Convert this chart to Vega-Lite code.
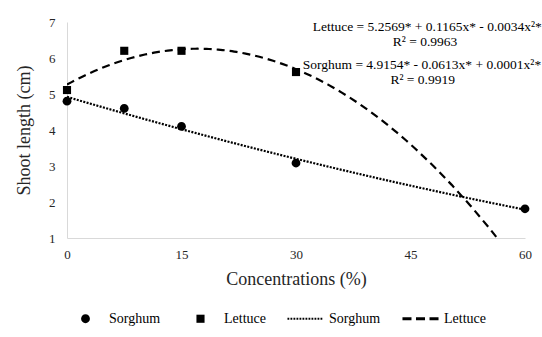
{
  "$schema": "https://vega.github.io/schema/vega-lite/v6.json",
  "width": 458,
  "height": 216,
  "autosize": {"type": "none"},
  "padding": {"left": 67, "top": 22, "right": 17, "bottom": 99},
  "background": "white",
  "config": {
    "font": "Liberation Serif",
    "view": {"stroke": null},
    "axis": {
      "domainColor": "#d9d9d9",
      "domainWidth": 1,
      "ticks": false,
      "grid": false,
      "labelFont": "Liberation Serif",
      "labelFontSize": 13,
      "labelColor": "#262626",
      "titleFont": "Liberation Serif",
      "titleFontSize": 18,
      "titleFontWeight": "normal",
      "titleColor": "#262626"
    },
    "legend": {
      "orient": "bottom",
      "direction": "horizontal",
      "title": null,
      "labelFont": "Liberation Serif",
      "labelFontSize": 14,
      "labelColor": "#000000",
      "symbolSize": 1300,
      "symbolStrokeWidth": 0,
      "symbolFillColor": "#000000",
      "symbolOpacity": 1,
      "columnPadding": 21,
      "labelOffset": 5,
      "offset": 12
    }
  },
  "data": {
    "values": [
      {"x": 0, "y": 4.8, "pt": "Sorghum", "ln": "Sorghum "},
      {"x": 7.5, "y": 4.6, "pt": "Sorghum", "ln": "Sorghum "},
      {"x": 15, "y": 4.1, "pt": "Sorghum", "ln": "Sorghum "},
      {"x": 30, "y": 3.08, "pt": "Sorghum", "ln": "Sorghum "},
      {"x": 60, "y": 1.81, "pt": "Sorghum", "ln": "Sorghum "},
      {"x": 0, "y": 5.11, "pt": "Lettuce", "ln": "Lettuce "},
      {"x": 7.5, "y": 6.2, "pt": "Lettuce", "ln": "Lettuce "},
      {"x": 15, "y": 6.2, "pt": "Lettuce", "ln": "Lettuce "},
      {"x": 30, "y": 5.61, "pt": "Lettuce", "ln": "Lettuce "},
      {"x": 60, "y": 0, "pt": "Lettuce", "ln": "Lettuce "}
    ]
  },
  "encoding": {
    "x": {
      "field": "x",
      "type": "quantitative",
      "scale": {"domain": [0, 60], "nice": false},
      "axis": {"values": [0, 15, 30, 45, 60], "title": "Concentrations (%)", "labelPadding": 10, "titlePadding": 9, "labelFlush": false}
    },
    "y": {
      "field": "y",
      "type": "quantitative",
      "scale": {"domain": [1, 7], "nice": false},
      "axis": {"values": [1, 2, 3, 4, 5, 6, 7], "title": "Shoot length (cm)", "labelPadding": 12, "titlePadding": 15}
    }
  },
  "layer": [
    {
      "transform": [
        {"regression": "y", "on": "x", "groupby": ["ln"], "method": "poly", "order": 2, "extent": [0, 60]}
      ],
      "mark": {"type": "line", "color": "#000000", "strokeWidth": 2.2, "clip": true},
      "encoding": {
        "strokeDash": {
          "field": "ln",
          "type": "nominal",
          "scale": {
            "domain": ["Sorghum", "Lettuce", "Sorghum ", "Lettuce "],
            "range": [[1, 0], [1, 0], [2, 1.4], [8, 5]]
          }
        }
      }
    },
    {
      "transform": [{"filter": "datum.y >= 1"}],
      "mark": {"type": "point", "filled": true, "color": "#000000", "strokeWidth": 0, "size": 1300, "opacity": 1},
      "encoding": {
        "shape": {
          "field": "pt",
          "type": "nominal",
          "scale": {
            "domain": ["Sorghum", "Lettuce", "Sorghum ", "Lettuce "],
            "range": [
              "M-0.245,0A0.245,0.245,0,1,1,0.245,0A0.245,0.245,0,1,1,-0.245,0Z",
              "M-0.225,-0.225H0.225V0.225H-0.225Z",
              "M-1,-0.055h0.1v0.11h-0.1zM-0.833,-0.055h0.1v0.11h-0.1zM-0.667,-0.055h0.1v0.11h-0.1zM-0.5,-0.055h0.1v0.11h-0.1zM-0.333,-0.055h0.1v0.11h-0.1zM-0.167,-0.055h0.1v0.11h-0.1zM0,-0.055h0.1v0.11h-0.1zM0.167,-0.055h0.1v0.11h-0.1zM0.333,-0.055h0.1v0.11h-0.1zM0.5,-0.055h0.1v0.11h-0.1zM0.667,-0.055h0.1v0.11h-0.1zM0.833,-0.055h0.1v0.11h-0.1z",
              "M-1,-0.08h0.5v0.16h-0.5zM-0.25,-0.08h0.5v0.16h-0.5zM0.5,-0.08h0.5v0.16h-0.5z"
            ]
          },
          "legend": {"offset": 12}
        }
      }
    },
    {
      "transform": [{"filter": "datum.x == 0 && datum.pt == 'Sorghum'"}],
      "mark": {"type": "text", "text": "Lettuce = 5.2569* + 0.1165x* - 0.0034x²*", "align": "center", "baseline": "middle", "fontSize": 13.5, "font": "Liberation Serif", "color": "#000000"},
      "encoding": {"x": {"datum": 47.2}, "y": {"datum": 6.86}}
    },
    {
      "transform": [{"filter": "datum.x == 0 && datum.pt == 'Sorghum'"}],
      "mark": {"type": "text", "text": "R² = 0.9963", "align": "center", "baseline": "middle", "fontSize": 13.5, "font": "Liberation Serif", "color": "#000000"},
      "encoding": {"x": {"datum": 46.9}, "y": {"datum": 6.44}}
    },
    {
      "transform": [{"filter": "datum.x == 0 && datum.pt == 'Sorghum'"}],
      "mark": {"type": "text", "text": "Sorghum = 4.9154* - 0.0613x* + 0.0001x²*", "align": "center", "baseline": "middle", "fontSize": 13.5, "font": "Liberation Serif", "color": "#000000"},
      "encoding": {"x": {"datum": 46.5}, "y": {"datum": 5.81}}
    },
    {
      "transform": [{"filter": "datum.x == 0 && datum.pt == 'Sorghum'"}],
      "mark": {"type": "text", "text": "R² = 0.9919", "align": "center", "baseline": "middle", "fontSize": 13.5, "font": "Liberation Serif", "color": "#000000"},
      "encoding": {"x": {"datum": 46.6}, "y": {"datum": 5.39}}
    }
  ]
}
